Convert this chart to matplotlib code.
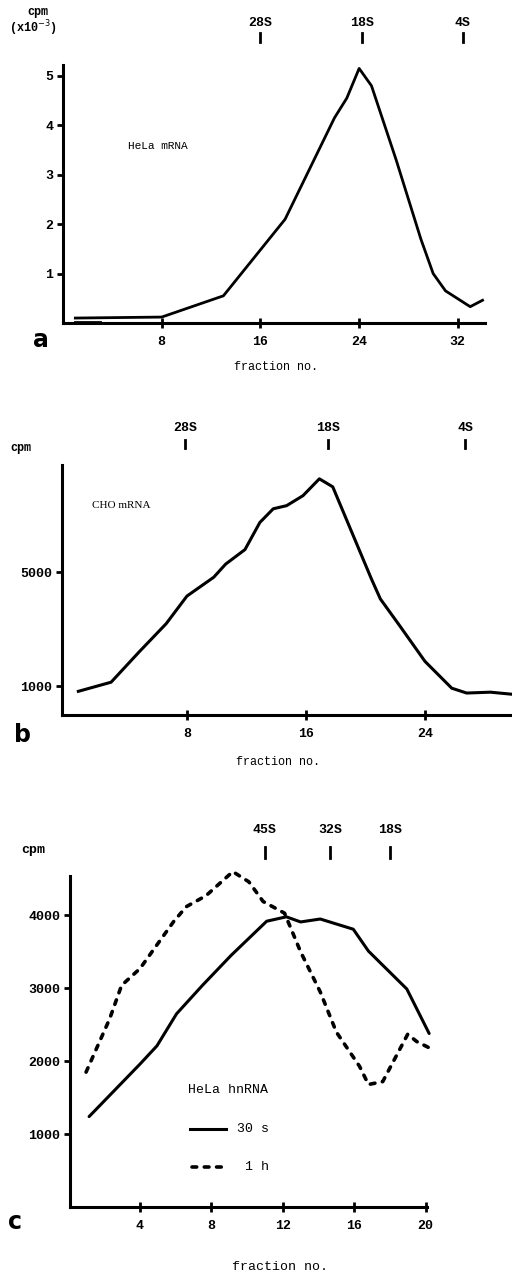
import matplotlib
matplotlib.use("Agg")
import matplotlib.pyplot as plt
from matplotlib.transforms import blended_transform_factory

W, H = 512, 1278
MONO = "Liberation Mono"

# a: HeLa mRNA
frac_a = [1, 8, 13, 18, 22, 23, 24, 25, 27, 29, 30, 31, 33, 34]
cpm_a = [0.1, 0.12, 0.55, 2.1, 4.15, 4.55, 5.15, 4.8, 3.3, 1.7, 1.0, 0.65, 0.33, 0.46]
ticks_a = [8, 16, 24, 32]
yticks_a = [1, 2, 3, 4, 5]
markers_a = {"28S": 16, "18S": 24.2, "4S": 32.4}

# b: CHO mRNA
frac_b = [0.7, 2.9, 4.8, 6.6, 8.0, 9.8, 10.6, 11.9, 12.9, 13.8, 14.7, 15.8, 16.9,
          17.8, 20.4, 21.0, 22.3, 24.0, 25.8, 26.8, 28.4, 29.8]
cpm_b = [830, 1150, 2220, 3200, 4170, 4830, 5290, 5800, 6750, 7230, 7340, 7690, 8280,
         8000, 4770, 4070, 3130, 1880, 940, 770, 800, 730]
ticks_b = [8, 16, 24]
yticks_b = [1000, 5000]
markers_b = {"28S": 7.9, "18S": 17.5, "4S": 26.7}

# c: HeLa hnRNA, 30 s and 1 h labelling
frac_30s = [1.15, 4.0, 4.95, 6.05, 7.5, 9.1, 11.1, 12.2, 13.0, 14.1, 15.95, 16.8, 18.95, 20.2]
cpm_30s = [1240, 1960, 2210, 2650, 3040, 3450, 3920, 3980, 3910, 3950, 3810, 3510, 2990, 2380]
frac_1h = [0.98, 2.3, 2.97, 4.0, 5.9, 6.6, 7.7, 9.2, 10.1, 10.9, 12.1, 13.0, 14.1, 15.0,
           16.3, 16.8, 17.6, 19.0, 19.5, 20.15]
cpm_1h = [1850, 2580, 3040, 3270, 3920, 4120, 4270, 4600, 4460, 4190, 4030, 3500, 2950, 2400,
          1930, 1680, 1720, 2370, 2270, 2190]
ticks_c = [4, 8, 12, 16, 20]
yticks_c = [1000, 2000, 3000, 4000]
markers_c = {"45S": 11.0, "32S": 14.65, "18S": 18.0}

DASH = (0, (1.3, 2.1))

fig = plt.figure(figsize=(W / 100, H / 100), dpi=100)


def fy(py):
    # pixel row from the top -> figure fraction
    return 1 - py / H


def make_axes(left, right, top, bottom):
    ax = fig.add_axes([left / W, fy(bottom), (right - left) / W, (bottom - top) / H])
    for s in ("top", "right"):
        ax.spines[s].set_visible(False)
    for s in ("left", "bottom"):
        ax.spines[s].set_linewidth(2.2)
    ax.tick_params(axis="x", direction="inout", length=7, width=2, pad=6)
    ax.tick_params(axis="y", direction="out", length=4, width=2, pad=3)
    return ax


def style_ticks(ax):
    for lab in ax.get_xticklabels() + ax.get_yticklabels():
        lab.set_family(MONO)
        lab.set_fontsize(9.5)
        lab.set_fontweight("bold")


def top_markers(ax, markers, label_y, mark_top, mark_bot):
    tr = blended_transform_factory(ax.transData, fig.transFigure)
    for name, x in markers.items():
        ax.text(x, fy(label_y), name, transform=tr, ha="center", va="center",
                family=MONO, fontsize=9.5, fontweight="bold")
        ax.plot([x, x], [fy(mark_top), fy(mark_bot)], transform=tr, color="black",
                lw=2, clip_on=False)


# ---- panel a ----
ax = make_axes(63, 485, 65, 323)
ax.plot(frac_a, cpm_a, color="black", lw=2, clip_on=False)
ax.plot([1, 3], [0.03, 0.03], color="black", lw=2)
ax.set_xlim(0, 34.2)
ax.set_ylim(0, 5.22)
ax.set_xticks(ticks_a)
ax.set_yticks(yticks_a)
style_ticks(ax)
top_markers(ax, markers_a, 23, 33, 42)
fig.text(38 / W, fy(12), "cpm", ha="center", va="center", family=MONO, fontsize=8.5,
         fontweight="bold")
fig.text(33 / W, fy(28), r"(x10$^{-3}$)", ha="center", va="center", family=MONO,
         fontsize=8.5, fontweight="bold")
fig.text(128 / W, fy(146), "HeLa mRNA", ha="left", va="center", family=MONO, fontsize=8)
fig.text(41 / W, fy(340), "a", ha="center", va="center", fontsize=17, fontweight="bold")
fig.text(276 / W, fy(367), "fraction no.", ha="center", va="center", family=MONO,
         fontsize=8.5)

# ---- panel b ----
ax = make_axes(62, 512, 465, 715)
ax.plot(frac_b, cpm_b, color="black", lw=2.2, clip_on=False)
ax.set_xlim(-0.4, 29.85)
ax.set_ylim(0, 8765)
ax.set_xticks(ticks_b)
ax.set_yticks(yticks_b)
style_ticks(ax)
top_markers(ax, markers_b, 428, 440, 448)
fig.text(21 / W, fy(448), "cpm", ha="center", va="center", family=MONO, fontsize=8.5,
         fontweight="bold")
fig.text(92 / W, fy(505), "CHO mRNA", ha="left", va="center", family="Liberation Serif",
         fontsize=8)
fig.text(23 / W, fy(735), "b", ha="center", va="center", fontsize=17, fontweight="bold")
fig.text(278 / W, fy(762), "fraction no.", ha="center", va="center", family=MONO,
         fontsize=8.5)

# ---- panel c ----
ax = make_axes(70, 427, 876, 1207)
ax.plot(frac_30s, cpm_30s, color="black", lw=2.2, solid_capstyle="round", clip_on=False)
ax.plot(frac_1h, cpm_1h, color="black", lw=2.6, linestyle=DASH, dash_capstyle="round",
        clip_on=False)
ax.set_xlim(0.08, 20.08)
ax.set_ylim(0, 4540)
ax.set_xticks(ticks_c)
ax.set_yticks(yticks_c)
style_ticks(ax)
top_markers(ax, markers_c, 830, 847, 858)
fig.text(33 / W, fy(850), "cpm", ha="center", va="center", family=MONO, fontsize=9.5,
         fontweight="bold")
fig.text(188 / W, fy(1090), "HeLa hnRNA", ha="left", va="center", family=MONO, fontsize=9.5)
fig.add_artist(plt.Line2D([190 / W, 226 / W], [fy(1129), fy(1129)], color="black", lw=2.2))
fig.text(237 / W, fy(1129), "30 s", ha="left", va="center", family=MONO, fontsize=9.5)
fig.add_artist(plt.Line2D([192 / W, 224 / W], [fy(1167), fy(1167)], color="black", lw=2.6,
                          linestyle=DASH, dash_capstyle="round"))
fig.text(245 / W, fy(1167), "1 h", ha="left", va="center", family=MONO, fontsize=9.5)
fig.text(15 / W, fy(1222), "c", ha="center", va="center", fontsize=17, fontweight="bold")
fig.text(280 / W, fy(1267), "fraction no.", ha="center", va="center", family=MONO,
         fontsize=9.5)

fig.savefig("out.png", dpi=100)
